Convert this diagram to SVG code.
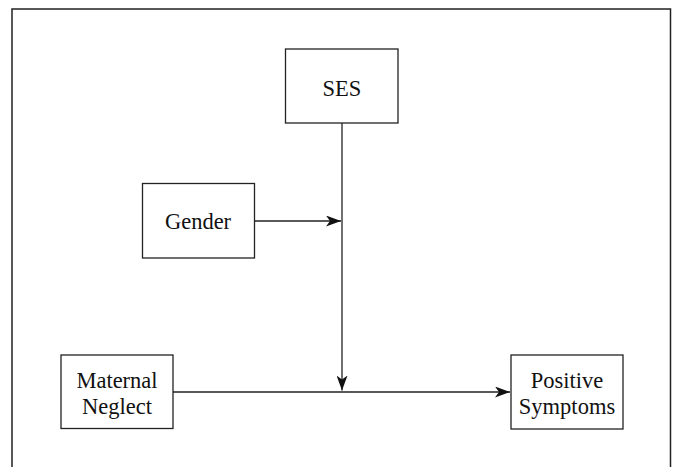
<svg xmlns="http://www.w3.org/2000/svg" width="673" height="467" viewBox="0 0 673 467">
<style>
.box{fill:#fff;stroke:#222;stroke-width:1.3}
.lbl{font-family:"Liberation Serif","Times New Roman",serif;font-size:22.5px;fill:#111;text-anchor:middle}
.edge{fill:none;stroke:#222;stroke-width:1.3}
</style>
<defs>
<marker id="ah" viewBox="0 0 15 11" refX="15" refY="5.5" markerWidth="15" markerHeight="11" markerUnits="userSpaceOnUse" orient="auto">
<path d="M0,0 L15,5.5 L0,11 L4,5.5 Z" fill="#111"/>
</marker>
</defs>
<rect width="673" height="467" fill="#fff"/>
<path d="M12,467 V9 H670.5 V467" fill="none" stroke="#222" stroke-width="1.5"/>
<g id="connectors">
<path class="edge" d="M342,123 V390.5" marker-end="url(#ah)"/>
<path class="edge" d="M254,221 H341" marker-end="url(#ah)"/>
<path class="edge" d="M173,392 H510" marker-end="url(#ah)"/>
</g>
<g id="ses">
<rect class="box" x="285.5" y="49" width="112.5" height="74"/>
<text class="lbl" x="342" y="96">SES</text>
</g>
<g id="gender">
<rect class="box" x="142.5" y="183.5" width="112" height="74.5"/>
<text class="lbl" x="198" y="229">Gender</text>
</g>
<g id="maternal-neglect">
<rect class="box" x="61" y="355" width="112" height="73.5"/>
<text class="lbl" x="117" y="388">Maternal</text>
<text class="lbl" x="117" y="414">Neglect</text>
</g>
<g id="positive-symptoms">
<rect class="box" x="511" y="355" width="112" height="74"/>
<text class="lbl" x="567" y="388">Positive</text>
<text class="lbl" x="567" y="414">Symptoms</text>
</g>
</svg>
